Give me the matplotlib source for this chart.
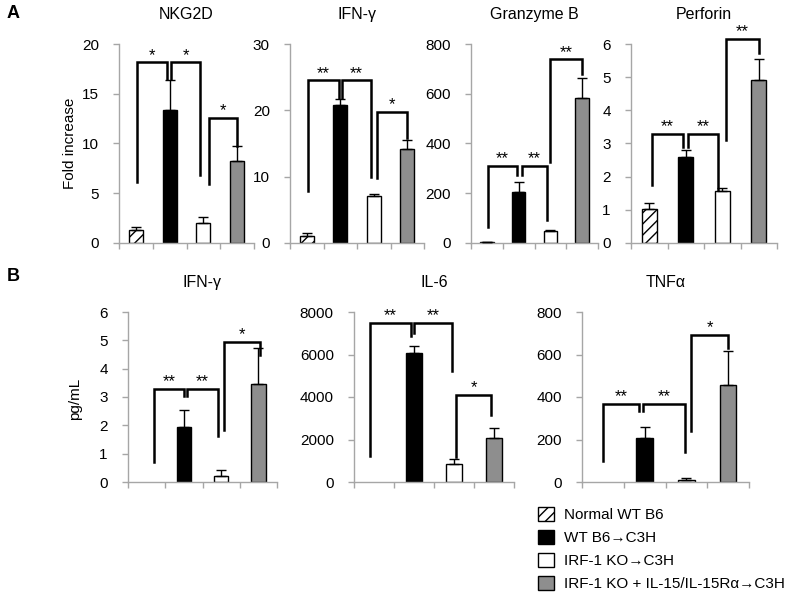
import matplotlib
matplotlib.use("Agg")
import matplotlib.pyplot as plt
from matplotlib.patches import Patch
import numpy as np

plt.rcParams['font.family'] = ['Liberation Sans', 'DejaVu Sans']
plt.rcParams['hatch.linewidth'] = 1.0

# ---------------- data ----------------
groups = ["Normal WT B6", "WT B6\u2192C3H", "IRF-1 KO\u2192C3H",
          "IRF-1 KO + IL-15/IL-15R\u03b1\u2192C3H"]

titles_a = ["NKG2D", "IFN-\u03b3", "Granzyme B", "Perforin"]
titles_b = ["IFN-\u03b3", "IL-6", "TNF\u03b1"]

nkg2d_mean = [1.3, 13.4, 2.0, 8.2]
nkg2d_err = [0.3, 3.0, 0.6, 1.5]
ifng_a_mean = [1.0, 20.8, 7.1, 14.1]
ifng_a_err = [0.5, 0.9, 0.3, 1.5]
gzmb_mean = [3, 205, 47, 582]
gzmb_err = [1, 40, 6, 80]
prf_mean = [1.04, 2.58, 1.57, 4.91]
prf_err = [0.18, 0.21, 0.10, 0.63]

ifng_b_mean = [0, 1.94, 0.22, 3.46]
ifng_b_err = [0, 0.61, 0.19, 1.27]
il6_mean = [0, 6070, 860, 2090]
il6_err = [0, 320, 220, 470]
tnf_mean = [0, 207, 11, 458]
tnf_err = [0, 50, 6, 157]

yticks_a = [[0, 5, 10, 15, 20], [0, 10, 20, 30], [0, 200, 400, 600, 800],
            [0, 1, 2, 3, 4, 5, 6]]
yticks_b = [[0, 1, 2, 3, 4, 5, 6], [0, 2000, 4000, 6000, 8000],
            [0, 200, 400, 600, 800]]

# significance brackets: (x_left, x_right, y_left_end, y_right_end, y_top, label)
br_nkg2d = [(0.04, 0.93, 6.1, 16.5, 18.15, "*"),
            (1.05, 1.91, 16.5, 6.8, 18.15, "*"),
            (2.18, 3.0, 5.9, 9.75, 12.6, "*")]
br_ifng_a = [(0.04, 0.95, 7.8, 21.9, 24.5, "**"),
             (1.05, 1.92, 21.9, 10.0, 24.5, "**"),
             (2.1, 3.0, 9.8, 15.9, 19.7, "*")]
br_gzmb = [(0.04, 0.94, 64, 272, 309, "**"),
           (1.1, 1.88, 272, 91, 309, "**"),
           (2.0, 3.0, 326, 679, 738, "**")]
br_prf = [(0.07, 0.93, 1.74, 2.9, 3.30, "**"),
          (1.07, 1.87, 2.9, 1.6, 3.30, "**"),
          (2.1, 3.0, 3.1, 5.72, 6.14, "**")]
br_ifng_b = [(0.2, 1.0, 0.71, 3.02, 3.29, "**"),
             (1.08, 1.92, 3.02, 1.61, 3.29, "**"),
             (2.08, 3.04, 1.82, 4.49, 4.94, "*")]
br_il6 = [(-0.1, 0.92, 1220, 6850, 7480, "**"),
          (1.0, 1.94, 7000, 5240, 7480, "**"),
          (2.05, 2.93, 1200, 3150, 4110, "*")]
br_tnf = [(0.0, 0.87, 97, 333, 367, "**"),
          (0.96, 1.97, 333, 140, 367, "**"),
          (2.11, 3.0, 238, 631, 693, "*")]

# ---------------- styling ----------------
fills = ["white", "black", "white", "#8e8e8e"]
hatches = ["///", None, None, None]
AXC = "#a6a6a6"

W, H = 800, 599
fig = plt.figure(figsize=(W / 100, H / 100), dpi=100)


def add_ax(x0, x1, ytop, ybot):
    return fig.add_axes([x0 / W, 1 - ybot / H, (x1 - x0) / W, (ybot - ytop) / H])


def draw_panel(ax, means, errs, yt, brackets, title, width):
    x = np.arange(len(means))
    means = np.asarray(means, float)
    errs = np.asarray(errs, float)
    for i in range(len(means)):
        if means[i] <= 0:
            continue
        ax.bar(x[i], means[i], width=width, color=fills[i], edgecolor="black",
               linewidth=1.0, hatch=hatches[i], zorder=2)
    m = errs > 0
    ax.errorbar(x[m], means[m], yerr=[np.zeros(m.sum()), errs[m]], fmt="none",
                ecolor="black", elinewidth=1.0, capsize=3.5, capthick=1.0, zorder=3)
    for xl, xr, yl, yr, top, lab in brackets:
        ax.plot([xl, xl, xr, xr], [yl, top, top, yr], color="black", lw=1.8,
                clip_on=False, zorder=4, solid_joinstyle="miter")
        ax.annotate(lab, xy=((xl + xr) / 2, top), xytext=(0, 2.0),
                    textcoords="offset points", ha="center", va="baseline",
                    fontsize=12, annotation_clip=False)
    ax.set_xlim(-0.5, len(means) - 0.5)
    ax.set_ylim(0, yt[-1])
    ax.set_yticks(yt)
    ax.set_xticks(np.arange(len(means) + 1) - 0.5)
    ax.set_xticklabels([])
    for s in ["top", "right"]:
        ax.spines[s].set_visible(False)
    for s in ["left", "bottom"]:
        ax.spines[s].set_color(AXC)
        ax.spines[s].set_linewidth(1.0)
    ax.tick_params(axis="both", direction="out", length=4, color=AXC, width=1.0)
    ax.tick_params(axis="y", labelsize=11, pad=10.5)
    ax.annotate(title, xy=(0.5, 1), xycoords="axes fraction", xytext=(0, 21),
                textcoords="offset points", ha="center", va="center", fontsize=11.5)


# Panel A
rows_a = [(119, 254), (290, 424), (471, 598), (631, 777)]
data_a = [(nkg2d_mean, nkg2d_err, br_nkg2d), (ifng_a_mean, ifng_a_err, br_ifng_a),
          (gzmb_mean, gzmb_err, br_gzmb), (prf_mean, prf_err, br_prf)]
for (x0, x1), (mv, ev, br), yt, tt in zip(rows_a, data_a, yticks_a, titles_a):
    ax = add_ax(x0, x1, 44, 243)
    draw_panel(ax, mv, ev, yt, br, tt, 0.42)

# Panel B
rows_b = [(128, 277), (354, 514), (582, 749)]
data_b = [(ifng_b_mean, ifng_b_err, br_ifng_b), (il6_mean, il6_err, br_il6),
          (tnf_mean, tnf_err, br_tnf)]
for (x0, x1), (mv, ev, br), yt, tt in zip(rows_b, data_b, yticks_b, titles_b):
    ax = add_ax(x0, x1, 312, 482)
    draw_panel(ax, mv, ev, yt, br, tt, 0.39)

# axis labels and panel letters
fig.text(70 / W, 1 - 143 / H, "Fold increase", rotation=90, ha="center",
         va="center", fontsize=11)
fig.text(75 / W, 1 - 399 / H, "pg/mL", rotation=90, ha="center", va="center",
         fontsize=11)
fig.text(13 / W, 1 - 14 / H, "A", ha="center", va="center", fontsize=13,
         fontweight="bold")
fig.text(13 / W, 1 - 277 / H, "B", ha="center", va="center", fontsize=13,
         fontweight="bold")

# legend
handles = [Patch(facecolor=fills[i], edgecolor="black", hatch=hatches[i],
                 linewidth=1.0) for i in range(4)]
fig.legend(handles, groups, loc="upper left",
           bbox_to_anchor=(538 / W, 1 - 507 / H), frameon=False, fontsize=11,
           handlelength=1.05, handleheight=1.0, handletextpad=0.65,
           labelspacing=0.52, borderpad=0, borderaxespad=0)

fig.savefig("out.png", dpi=100)
